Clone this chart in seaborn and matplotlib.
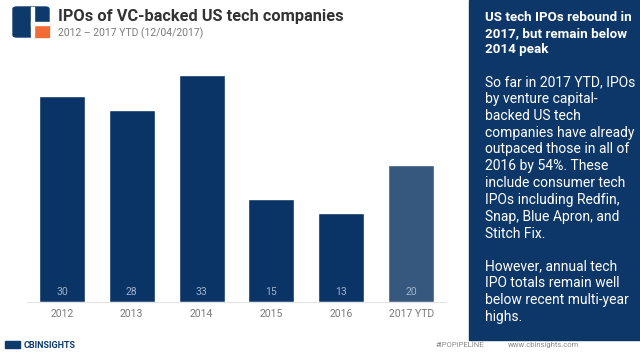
import pandas as pd
import seaborn as sns
import matplotlib.pyplot as plt
from matplotlib.patches import Rectangle, FancyBboxPatch

# Veriler
years = ['2012', '2013', '2014', '2015', '2016', '2017 YTD']
ipos = [30, 28, 33, 15, 13, 20]
bar_colors = ['#0b3466', '#0b3466', '#0b3466', '#0b3466', '#0b3466', '#36587f']

title = 'IPOs of VC-backed US tech companies'
subtitle = '2012 – 2017 YTD (12/04/2017)'
side_title = 'US tech IPOs rebound in\n2017, but remain below\n2014 peak'
side_body1 = ('So far in 2017 YTD, IPOs\nby venture capital-\nbacked US tech\n'
              'companies have already\noutpaced those in all of\n2016 by 54%. These\n'
              'include consumer tech\nIPOs including Redfin,\nSnap, Blue Apron, and\nStitch Fix.')
side_body2 = 'However, annual tech\nIPO totals remain well\nbelow recent multi-year\nhighs.'

df = pd.DataFrame({'year': years, 'ipos': ipos})

sns.set_style('white')
plt.rcParams['font.family'] = ['Roboto', 'DejaVu Sans']

fig = plt.figure(figsize=(6.4, 3.53), dpi=100)
W, H = 640, 353
ax = fig.add_axes([27 / W, 51 / H, 419 / W, 261 / H])

sns.barplot(data=df, x='year', y='ipos', hue='year', palette=bar_colors,
            legend=False, width=0.66, saturation=1, ax=ax)
ax.set_ylim(0, 38)
ax.set_xlim(-0.5, 5.5)
ax.set_xlabel('')
ax.set_ylabel('')
ax.set_yticks([])
for s in ['top', 'right', 'left']:
    ax.spines[s].set_visible(False)
ax.spines['bottom'].set_color('#e3e3e3')
ax.spines['bottom'].set_linewidth(0.8)
ax.tick_params(axis='x', length=0, pad=5, labelsize=7.5, labelcolor='#7a7a7a')

# Barların içine değerleri yazalım
for i, v in enumerate(ipos):
    ax.text(i, 1.4, str(v), ha='center', va='center', fontsize=7.5, color='#9fb1c8')

# Başlık ve logo
fig.patches.append(FancyBboxPatch((13 / W, 1 - 37 / H), 36 / W, 30 / H,
                                  boxstyle='round,pad=0,rounding_size=0.006',
                                  transform=fig.transFigure, color='#0d3a6b'))
fig.patches.append(Rectangle((33 / W, 1 - 37 / H), 16 / W, 13 / H,
                             transform=fig.transFigure, color='#f26b35'))
fig.patches.append(Rectangle((31 / W, 1 - 37 / H), 2.5 / W, 30 / H,
                             transform=fig.transFigure, color='white'))
fig.patches.append(Rectangle((31 / W, 1 - 24.5 / H), 18 / W, 2.5 / H,
                             transform=fig.transFigure, color='white'))
fig.text(58 / W, 1 - 17 / H, title, fontsize=11.8, fontweight='bold', color='#333333',
         va='center', ha='left')
fig.text(58 / W, 1 - 33 / H, subtitle, fontsize=7.5, color='#7a7a7a', va='center', ha='left')

# Sağ panel
fig.patches.append(Rectangle((469 / W, 13 / H), 171 / W, 340 / H,
                             transform=fig.transFigure, color='#0d3768'))
fig.text(485 / W, 1 - 11 / H, side_title, fontsize=9.6, fontweight='bold', color='white',
         va='top', ha='left', linespacing=1.3)
fig.text(485 / W, 1 - 75 / H, side_body1, fontsize=10, fontweight='normal', color='white',
         va='top', ha='left', linespacing=1.26)
fig.text(485 / W, 1 - 259 / H, side_body2, fontsize=10, fontweight='normal', color='white',
         va='top', ha='left', linespacing=1.26)

# Alt bilgi
fig.text(24 / W, 1 - 345 / H, 'CBINSIGHTS', fontsize=6.5, fontweight='bold', color='#0d3a6b',
         va='center', ha='left')
fig.patches.append(Rectangle((5 / W, 1 - 348 / H), 15 / W, 7 / H,
                             transform=fig.transFigure, color='#0d3a6b'))
fig.text(436 / W, 1 - 345 / H, '#IPOPIPELINE', fontsize=5.5, color='#8a8a8a', va='center', ha='left')
fig.text(508 / W, 1 - 345 / H, 'www.cbinsights.com', fontsize=5.5, color='#8a8a8a', va='center', ha='left')

plt.savefig('out.png', dpi=100)
